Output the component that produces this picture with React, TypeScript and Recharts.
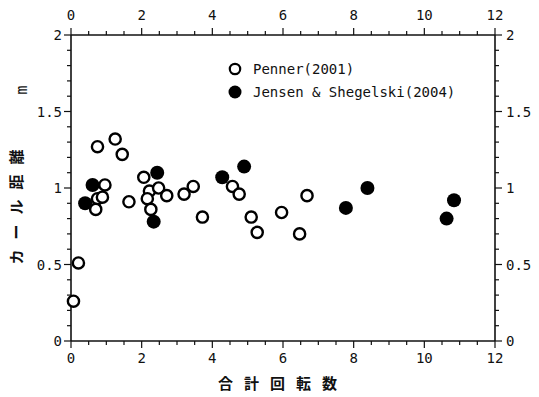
import { ScatterChart, Scatter, XAxis, YAxis, Legend } from 'recharts'

// Penner (2001) - open circles
const penner = [
  { x: 0.07, y: 0.26 },
  { x: 0.21, y: 0.51 },
  { x: 0.75, y: 1.27 },
  { x: 1.25, y: 1.32 },
  { x: 1.45, y: 1.22 },
  { x: 0.96, y: 1.02 },
  { x: 0.75, y: 0.93 },
  { x: 0.89, y: 0.94 },
  { x: 0.7, y: 0.86 },
  { x: 1.64, y: 0.91 },
  { x: 2.06, y: 1.07 },
  { x: 2.22, y: 0.98 },
  { x: 2.48, y: 1.0 },
  { x: 2.16, y: 0.93 },
  { x: 2.71, y: 0.95 },
  { x: 2.26, y: 0.86 },
  { x: 3.2, y: 0.96 },
  { x: 3.46, y: 1.01 },
  { x: 3.72, y: 0.81 },
  { x: 4.57, y: 1.01 },
  { x: 4.76, y: 0.96 },
  { x: 5.1, y: 0.81 },
  { x: 5.27, y: 0.71 },
  { x: 5.96, y: 0.84 },
  { x: 6.68, y: 0.95 },
  { x: 6.47, y: 0.7 },
]

// Jensen & Shegelski (2004) - filled circles
const jensen = [
  { x: 0.4, y: 0.9 },
  { x: 0.61, y: 1.02 },
  { x: 2.44, y: 1.1 },
  { x: 2.34, y: 0.78 },
  { x: 4.28, y: 1.07 },
  { x: 4.9, y: 1.14 },
  { x: 7.78, y: 0.87 },
  { x: 8.39, y: 1.0 },
  { x: 10.63, y: 0.8 },
  { x: 10.84, y: 0.92 },
]

const xTicks = [0, 0.5, 1, 1.5, 2, 2.5, 3, 3.5, 4, 4.5, 5, 5.5, 6, 6.5, 7, 7.5, 8, 8.5, 9, 9.5, 10, 10.5, 11, 11.5, 12]
const yTicks = [0, 0.1, 0.2, 0.3, 0.4, 0.5, 0.6, 0.7, 0.8, 0.9, 1, 1.1, 1.2, 1.3, 1.4, 1.5, 1.6, 1.7, 1.8, 1.9, 2]

const mono = '"DejaVu Sans Mono", monospace'
const cjk = '"Noto Sans CJK JP", sans-serif'
const ink = '#111'

const isXMajor = (v: number) => Math.abs(v / 2 - Math.round(v / 2)) < 1e-6
const isYMajor = (v: number) => Math.abs(v * 2 - Math.round(v * 2)) < 1e-6

const BottomTick = (props: any) => {
  const { x, y, payload } = props
  const major = isXMajor(payload.value)
  return (
    <g>
      <line x1={x} x2={x} y1={y} y2={y + (major ? 7 : 4)} stroke={ink} strokeWidth={1.2} />
      {major && (
        <text x={x} y={y + 22} textAnchor="middle" fontFamily={mono} fontSize={14} fill={ink}>
          {payload.value}
        </text>
      )}
    </g>
  )
}

const TopTick = (props: any) => {
  const { x, y, payload } = props
  const major = isXMajor(payload.value)
  return (
    <g>
      <line x1={x} x2={x} y1={y} y2={y - (major ? 7 : 4)} stroke={ink} strokeWidth={1.2} />
      {major && (
        <text x={x} y={y - 15} textAnchor="middle" fontFamily={mono} fontSize={14} fill={ink}>
          {payload.value}
        </text>
      )}
    </g>
  )
}

const LeftTick = (props: any) => {
  const { x, y, payload } = props
  const major = isYMajor(payload.value)
  return (
    <g>
      <line x1={x} x2={x - (major ? 7 : 4)} y1={y} y2={y} stroke={ink} strokeWidth={1.2} />
      {major && (
        <text x={x - 9} y={y} dy="0.36em" textAnchor="end" fontFamily={mono} fontSize={14} fill={ink}>
          {payload.value}
        </text>
      )}
    </g>
  )
}

const RightTick = (props: any) => {
  const { x, y, payload } = props
  const major = isYMajor(payload.value)
  return (
    <g>
      <line x1={x} x2={x + (major ? 7 : 4)} y1={y} y2={y} stroke={ink} strokeWidth={1.2} />
      {major && (
        <text x={x + 11} y={y} dy="0.36em" textAnchor="start" fontFamily={mono} fontSize={14} fill={ink}>
          {payload.value}
        </text>
      )}
    </g>
  )
}

const OpenDot = (p: any) => <circle cx={p.cx} cy={p.cy} r={5.6} fill="#fff" stroke="#000" strokeWidth={2.4} />
const FilledDot = (p: any) => <circle cx={p.cx} cy={p.cy} r={7} fill="#000" />
const NoDot = () => <g />

const legendRows = [
  { name: 'Penner(2001)', filled: false },
  { name: 'Jensen & Shegelski(2004)', filled: true },
]

const renderLegend = () => (
  <div style={{ fontFamily: mono, fontSize: 14, color: ink }}>
    {legendRows.map((r) => (
      <div key={r.name} style={{ display: 'flex', alignItems: 'center', height: 23 }}>
        <svg width={18} height={16} style={{ marginRight: 9 }}>
          {r.filled ? (
            <circle cx={9} cy={8} r={6.5} fill="#000" />
          ) : (
            <circle cx={9} cy={8} r={5.2} fill="#fff" stroke="#000" strokeWidth={2.2} />
          )}
        </svg>
        <span style={{ whiteSpace: 'pre' }}>{r.name}</span>
      </div>
    ))}
  </div>
)

export default function App() {
  return (
    <div style={{ position: 'absolute', left: 0, top: 0, width: 539, height: 397, background: '#fff' }}>
      <ScatterChart width={539} height={397} margin={{ top: 0, right: 0, bottom: 0, left: 0 }}>
        <XAxis
          xAxisId="bottom"
          dataKey="x"
          type="number"
          domain={[0, 12]}
          ticks={xTicks}
          interval={0}
          height={56}
          tickSize={0}
          tickMargin={0}
          tickLine={false}
          axisLine={{ stroke: ink, strokeWidth: 1.6 }}
          tick={<BottomTick />}
        />
        <XAxis
          xAxisId="top"
          orientation="top"
          dataKey="x"
          type="number"
          domain={[0, 12]}
          ticks={xTicks}
          interval={0}
          height={35}
          tickSize={0}
          tickMargin={0}
          tickLine={false}
          axisLine={{ stroke: ink, strokeWidth: 1.6 }}
          tick={<TopTick />}
        />
        <YAxis
          yAxisId="left"
          dataKey="y"
          type="number"
          domain={[0, 2]}
          ticks={yTicks}
          interval={0}
          width={71}
          tickSize={0}
          tickMargin={0}
          tickLine={false}
          axisLine={{ stroke: ink, strokeWidth: 1.6 }}
          tick={<LeftTick />}
        />
        <YAxis
          yAxisId="right"
          orientation="right"
          dataKey="y"
          type="number"
          domain={[0, 2]}
          ticks={yTicks}
          interval={0}
          width={44}
          tickSize={0}
          tickMargin={0}
          tickLine={false}
          axisLine={{ stroke: ink, strokeWidth: 1.6 }}
          tick={<RightTick />}
        />
        <Scatter
          name="Jensen & Shegelski(2004)"
          data={jensen}
          xAxisId="bottom"
          yAxisId="left"
          shape={FilledDot}
          isAnimationActive={false}
        />
        <Scatter
          name="Penner(2001)"
          data={penner}
          xAxisId="bottom"
          yAxisId="left"
          shape={OpenDot}
          isAnimationActive={false}
        />
        <Scatter
          name="frame"
          data={penner}
          xAxisId="top"
          yAxisId="right"
          shape={NoDot}
          isAnimationActive={false}
          legendType="none"
        />
        <Legend
          layout="vertical"
          align="center"
          verticalAlign="middle"
          wrapperStyle={{ top: 57, left: 226, width: 300 }}
          content={renderLegend}
        />
        <text
          transform="translate(22, 202) rotate(-90)"
          textAnchor="middle"
          fontFamily={cjk}
          fontWeight={700}
          fontSize={15}
          letterSpacing={10}
          fill={ink}
        >
          カール距離
        </text>
        <text
          transform="translate(22, 90) rotate(-90)"
          textAnchor="middle"
          dy="0.35em"
          fontFamily={mono}
          fontSize={15}
          fill={ink}
        >
          m
        </text>
        <text
          x={283}
          y={389}
          textAnchor="middle"
          fontFamily={cjk}
          fontWeight={700}
          fontSize={15}
          letterSpacing={11}
          fill={ink}
        >
          合計回転数
        </text>
      </ScatterChart>
    </div>
  )
}
